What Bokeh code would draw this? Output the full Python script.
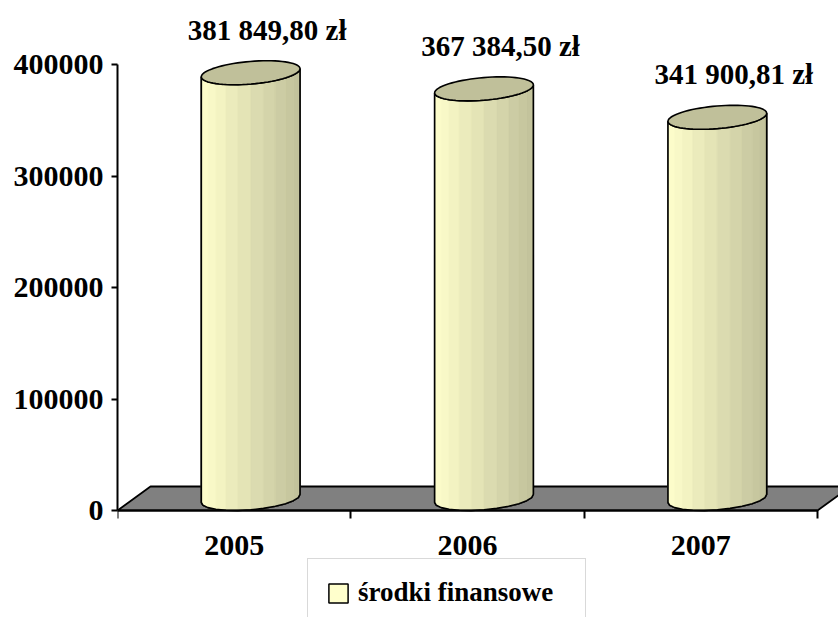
import numpy as np
from bokeh.plotting import figure
from bokeh.models import (Range1d, FixedTicker, Legend, LegendItem, ColumnDataSource)
from bokeh.core.properties import value
from bokeh.embed import file_html
from bokeh.resources import INLINE

# ---- data ----
years = ["2005", "2006", "2007"]
amounts = [381849.80, 367384.50, 341900.81]
series_name = "środki finansowe"
y_ticks = [0, 100000, 200000, 300000, 400000]

FONT = "Liberation Serif"

# ---- layout constants (pixels -> data) ----
W, H = 838, 617
BL = 117                      # frame left (axis line)
AXIS_Y = 510                  # pixel row of value 0
px_per_x = 700.0 / len(years)
px_per_y = 446.0 / 400000.0
x_end = (W - BL) / px_per_x
y_end = AXIS_Y / px_per_y
y_start = -(H - AXIS_Y) / px_per_y

DX = 33.0 / px_per_x          # depth offset (x units)
DY = 24.0 / px_per_y          # depth offset (value units)
R = 46.5 / px_per_x           # cylinder radius (x units)

p = figure(width=W, height=H, output_backend="svg", toolbar_location=None,
           x_range=Range1d(0, x_end), y_range=Range1d(y_start, y_end),
           min_border_left=BL, min_border_top=0, min_border_right=0,
           min_border_bottom=0)
p.outline_line_color = None
p.grid.visible = False
p.background_fill_color = "white"
p.border_fill_color = "white"

# ---- floor ----
n = len(years)
p.patch([0, n, n + DX, DX], [0, 0, DY, DY], fill_color="#808080",
        line_color="black", line_width=1.8)

# ---- cylinders ----
light = np.array([0xFF, 0xFF, 0xCC], dtype=float)
dark = np.array([0xC0, 0xC0, 0x9A], dtype=float)
a = DX / 2
b = DY / 2
th_r = np.arctan2(a, R)
NS = 12
thetas = np.linspace(np.pi + th_r, 2 * np.pi + th_r, NS + 1)

def ex(cx, th):
    return cx + R * np.cos(th) + a * np.sin(th)

strip_xs, strip_ys, strip_cols = [], [], []
sil_xs, sil_ys = [], []
top_xs, top_ys = [], []
for i, v in enumerate(amounts):
    cx = i + 0.5 + DX / 2
    cy_top = v + b
    cy_bot = 0 + b
    xl = ex(cx, thetas[0]); xr = ex(cx, thetas[-1])
    for k in range(NS):
        t0, t1 = thetas[k], thetas[k + 1]
        xs = [ex(cx, t0), ex(cx, t1), ex(cx, t1), ex(cx, t0)]
        ys = [cy_top + b * np.sin(t0), cy_top + b * np.sin(t1),
              cy_bot + b * np.sin(t1), cy_bot + b * np.sin(t0)]
        tm = ((xs[0] + xs[1]) / 2 - xl) / (xr - xl)
        c = light + (dark - light) * tm
        strip_xs.append(xs); strip_ys.append(ys)
        strip_cols.append("#%02x%02x%02x" % tuple(int(round(q)) for q in c))
    fx = [ex(cx, t) for t in thetas]
    sx = fx + fx[::-1]
    sy = [cy_bot + b * np.sin(t) for t in thetas] + \
         [cy_top + b * np.sin(t) for t in thetas[::-1]]
    sil_xs.append(sx); sil_ys.append(sy)
    full = np.linspace(0, 2 * np.pi, 73)
    top_xs.append([ex(cx, t) for t in full])
    top_ys.append([cy_top + b * np.sin(t) for t in full])

# base body (also serves as the legend glyph: pale yellow, black outline)
base = p.patches(sil_xs, sil_ys, fill_color="#FFFFCC", line_color="black",
                 line_width=1.5)
p.patches(strip_xs, strip_ys, fill_color=strip_cols, line_color=strip_cols,
          line_width=0.6)
p.patches(sil_xs, sil_ys, fill_color=None, line_color="black", line_width=1.6)
p.patches(top_xs, top_ys, fill_color="#C0C09A", line_color="black", line_width=1.6)

# ---- value labels ----
def fmt(v):
    return f"{v:,.2f}".replace(",", " ").replace(".", ",") + " zł"

lab_src = ColumnDataSource(dict(
    x=[i + 0.5 + DX for i in range(n)],
    y=[v + DY for v in amounts],
    t=[fmt(v) for v in amounts]))
p.text("x", "y", text="t", source=lab_src, text_align="center",
       text_baseline="alphabetic", y_offset=-31,
       text_font=value(FONT), text_font_style="bold", text_font_size="29px",
       text_color="black")

# ---- axes ----
yax = p.yaxis[0]
yax.ticker = FixedTicker(ticks=y_ticks)
yax.bounds = (0, 400000)
yax.axis_line_width = 2
yax.major_tick_out = 6
yax.major_tick_in = 0
yax.major_tick_line_width = 2
yax.minor_tick_line_color = None
yax.major_label_standoff = 8
yax.major_label_text_font = FONT
yax.major_label_text_font_style = "bold"
yax.major_label_text_font_size = "30px"
yax.major_label_text_color = "black"
yax.formatter.use_scientific = False

xax = p.xaxis[0]
xax.fixed_location = 0
xax.ticker = FixedTicker(ticks=[i + 0.5 for i in range(n)],
                         minor_ticks=list(range(n + 1)))
xax.major_label_overrides = {i + 0.5: years[i] for i in range(n)}
xax.bounds = (0, n)
xax.axis_line_width = 2
xax.major_tick_out = 0
xax.major_tick_in = 0
xax.minor_tick_out = 8
xax.minor_tick_in = 0
xax.minor_tick_line_width = 2
xax.major_label_standoff = 17
xax.major_label_text_font = FONT
xax.major_label_text_font_style = "bold"
xax.major_label_text_font_size = "30px"
xax.major_label_text_color = "black"

# ---- legend ----
legend = Legend(items=[LegendItem(label=series_name, renderers=[base], index=0)],
                location=(190, -10), padding=18, glyph_width=24,
                glyph_height=24, label_standoff=8, label_width=209,
                label_text_font=FONT, label_text_font_style="bold",
                label_text_font_size="27px", label_text_color="black",
                border_line_color="#B4B4B4", border_line_width=1.5,
                background_fill_color="white", background_fill_alpha=1.0,
                margin=0)
p.add_layout(legend)

open("out.html", "w").write(file_html(p, INLINE))
